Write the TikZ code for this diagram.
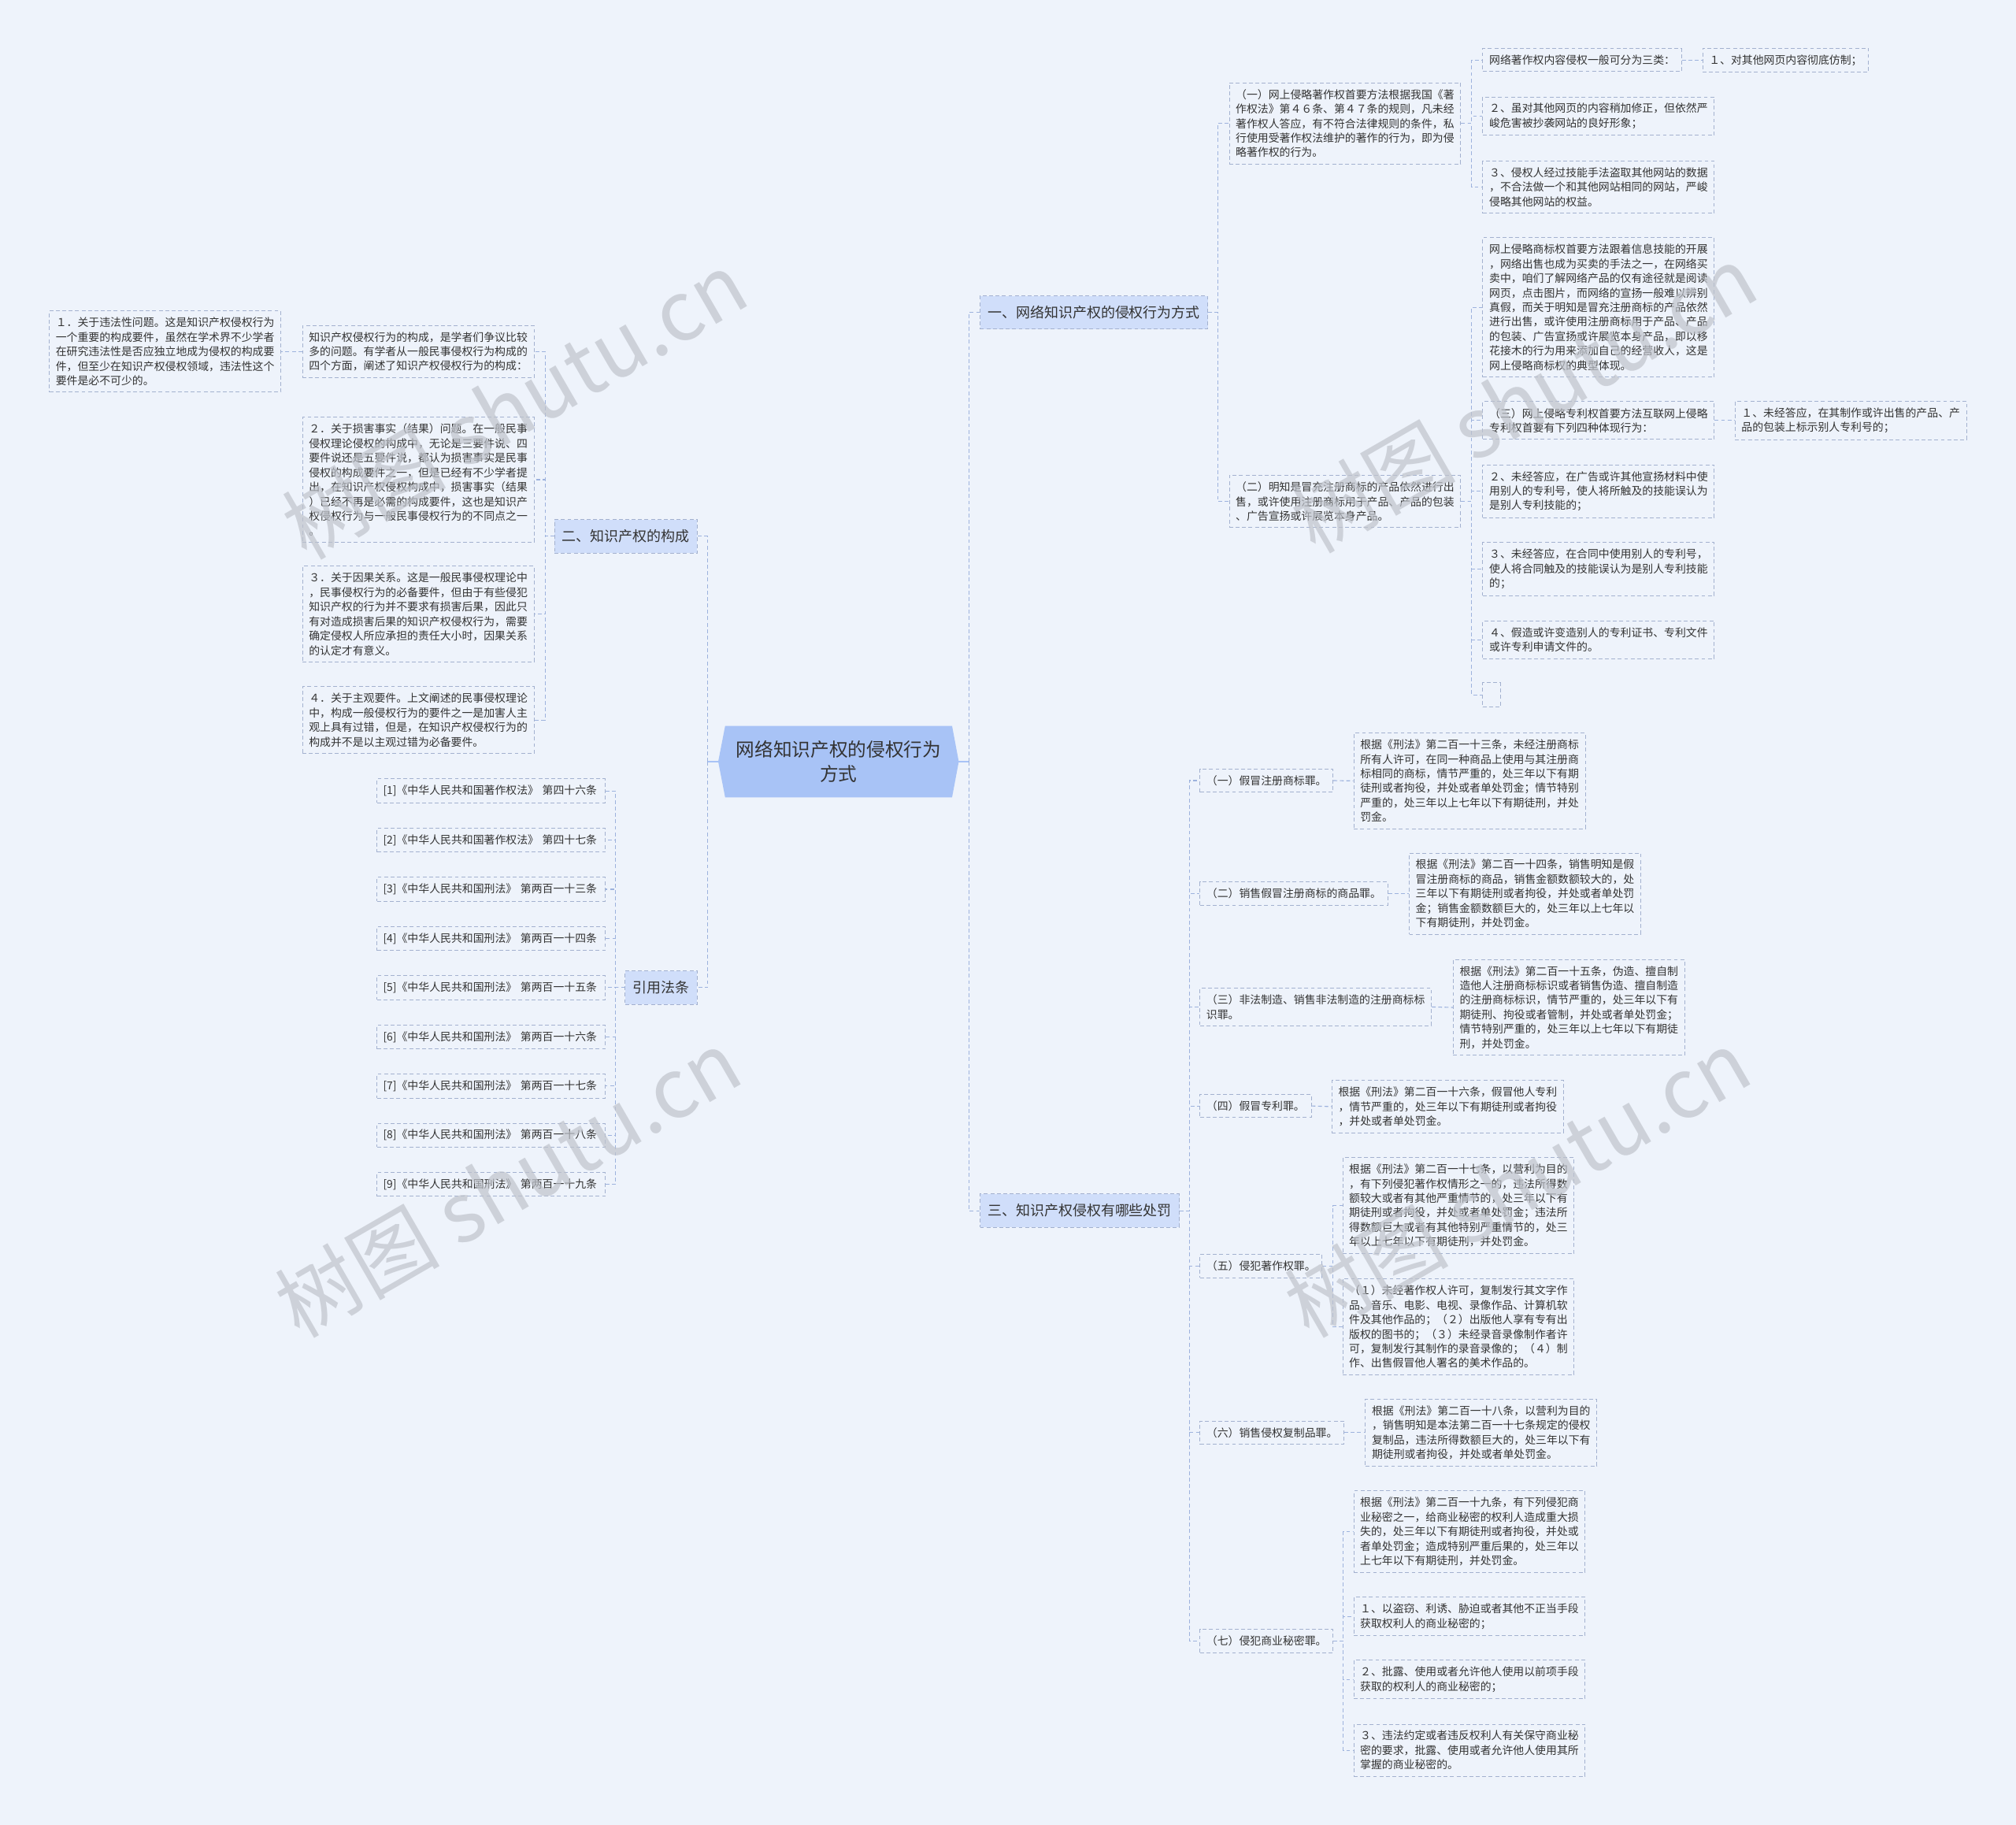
\documentclass[tikz,border=0pt]{standalone}
\usepackage{fontspec}
\setmainfont{Noto Sans CJK SC}
\usepackage{tikz}
\usetikzlibrary{calc}
\definecolor{paper}{HTML}{EEF3FB}
\definecolor{ink}{HTML}{333333}
\definecolor{edge}{HTML}{A3B1CF}
\definecolor{linkc}{HTML}{9DB2DD}
\definecolor{branchfill}{HTML}{D0DEFA}
\definecolor{rootfill}{HTML}{A8C3F6}
\definecolor{wmc}{HTML}{BFC3CB}

\begin{document}
\begin{tikzpicture}[x=1pt,y=-1pt,
  every node/.style={font=\fontsize{8.5}{11.3}\selectfont,text=ink},
  leaf/.style={draw=edge,dash pattern=on 3pt off 2pt,line width=.6pt,align=left,inner xsep=5pt,inner ysep=5pt},
  cite/.style={leaf,text width=168pt,inner xsep=4.7pt,anchor=east},
  branch/.style={draw=edge,dash pattern=on 3pt off 2pt,line width=.6pt,fill=branchfill,minimum height=26pt,inner xsep=6pt,font=\fontsize{11}{13}\selectfont},
  link/.style={draw=linkc,dash pattern=on 3pt off 2pt,line width=.7pt},
  stub/.style={draw=rootfill,line width=1.4pt},
  wmark/.style={text=wmc,text opacity=.7,rotate=30,font=\fontsize{64}{70}\selectfont}]
\useasboundingbox (0,0) rectangle (1568,1419);
\fill[paper] (0,0) rectangle (1568,1419);

% centre
\coordinate (rootL) at (558.6,592.25);
\coordinate (rootR) at (745.7,592.25);
\fill[rootfill] (564,564.5) -- (740.5,564.5) -- (rootR) -- (740.5,620) -- (564,620) -- (rootL) -- cycle;
\node[font=\fontsize{14.5}{19.4}\selectfont,align=center,minimum width=176.5pt,minimum height=55.5pt,inner sep=0pt] (root) at (652.25,592.25) {网络知识产权的侵权行为\\方式};

% trunks
\coordinate (tL) at (550.5,0);
\coordinate (tR) at (753.5,0);
\coordinate (t1) at (947,0);
\coordinate (t11) at (1144.5,0);
\coordinate (t12) at (1144.7,0);
\coordinate (t2) at (424,0);
\coordinate (t3) at (478.8,0);
\coordinate (t4) at (925,0);
\coordinate (t45) at (1036.8,0);
\coordinate (t47) at (1044.8,0);

% main branches
\node[branch,anchor=west] (b1) at (762,243) {一、网络知识产权的侵权行为方式};
\node[branch,anchor=east] (b2) at (542.6,417) {二、知识产权的构成};
\node[branch,anchor=east] (b3) at (542.6,768) {引用法条};
\node[branch,anchor=west] (b4) at (762,941.5) {三、知识产权侵权有哪些处罚};

\draw[link] (rootR -| tR) |- (b1.west);
\draw[link] (rootR -| tR) |- (b4.west);
\draw[link] (rootL -| tL) |- (b2.east);
\draw[link] (rootL -| tL) |- (b3.east);
\draw[stub] (rootR) -- (rootR -| tR);
\draw[stub] (rootL) -- (rootL -| tL);

% branch 1
\node[leaf,anchor=west] (n1) at (955.8,96) {（一）网上侵略著作权首要方法根据我国《著\\作权法》第４６条、第４７条的规则，凡未经\\著作权人答应，有不符合法律规则的条件，私\\行使用受著作权法维护的著作的行为，即为侵\\略著作权的行为。};
\node[leaf,anchor=west] (n2) at (955.8,390) {（二）明知是冒充注册商标的产品依然进行出\\售，或许使用注册商标用于产品、产品的包装\\、广告宣扬或许展览本身产品。};
\node[leaf,anchor=west] (n11) at (1153,46.7) {网络著作权内容侵权一般可分为三类：};
\node[leaf,anchor=west] (n111) at (1324,46.7) {１、对其他网页内容彻底仿制；};
\node[leaf,anchor=west] (n12) at (1153,90.3) {２、虽对其他网页的内容稍加修正，但依然严\\峻危害被抄袭网站的良好形象；};
\node[leaf,anchor=west] (n13) at (1153,145.5) {３、侵权人经过技能手法盗取其他网站的数据\\，不合法做一个和其他网站相同的网站，严峻\\侵略其他网站的权益。};
\node[leaf,anchor=west] (n21) at (1153,239) {网上侵略商标权首要方法跟着信息技能的开展\\，网络出售也成为买卖的手法之一，在网络买\\卖中，咱们了解网络产品的仅有途径就是阅读\\网页，点击图片，而网络的宣扬一般难以辨别\\真假，而关于明知是冒充注册商标的产品依然\\进行出售，或许使用注册商标用于产品、产品\\的包装、广告宣扬或许展览本身产品，即以移\\花接木的行为用来添加自己的经营收人，这是\\网上侵略商标权的典型体现。};
\node[leaf,anchor=west] (n22) at (1153,327) {（三）网上侵略专利权首要方法互联网上侵略\\专利权首要有下列四种体现行为：};
\node[leaf,anchor=west] (n221) at (1349.2,327) {１、未经答应，在其制作或许出售的产品、产\\品的包装上标示别人专利号的；};
\node[leaf,anchor=west] (n23) at (1153,382) {２、未经答应，在广告或许其他宣扬材料中使\\用别人的专利号，使人将所触及的技能误认为\\是别人专利技能的；};
\node[leaf,anchor=west] (n24) at (1153,442.5) {３、未经答应，在合同中使用别人的专利号，\\使人将合同触及的技能误认为是别人专利技能\\的；};
\node[leaf,anchor=west] (n25) at (1153,497.5) {４、假造或许变造别人的专利证书、专利文件\\或许专利申请文件的。};
\node[leaf,anchor=west,minimum width=13.5pt,minimum height=19pt,inner sep=0pt] (n26) at (1153,540.5) {};

\draw[link] (b1.east) -- (b1.east -| t1) |- (n1.west);
\draw[link] (b1.east) -- (b1.east -| t1) |- (n2.west);
\draw[link] (n1.east) -- (n1.east -| t11) |- (n11.west);
\draw[link] (n1.east) -- (n1.east -| t11) |- (n12.west);
\draw[link] (n1.east) -- (n1.east -| t11) |- (n13.west);
\draw[link] (n11.east) -- (n111.west);
\draw[link] (n2.east) -- (n2.east -| t12) |- (n21.west);
\draw[link] (n2.east) -- (n2.east -| t12) |- (n22.west);
\draw[link] (n2.east) -- (n2.east -| t12) |- (n23.west);
\draw[link] (n2.east) -- (n2.east -| t12) |- (n24.west);
\draw[link] (n2.east) -- (n2.east -| t12) |- (n25.west);
\draw[link] (n2.east) -- (n2.east -| t12) |- (n26.west);
\draw[link] (n22.east) -- (n221.west);

% branch 2
\node[leaf,anchor=east] (m1) at (415.6,273.4) {知识产权侵权行为的构成，是学者们争议比较\\多的问题。有学者从一般民事侵权行为构成的\\四个方面，阐述了知识产权侵权行为的构成：};
\node[leaf,anchor=east] (m11) at (218.7,273.4) {１．关于违法性问题。这是知识产权侵权行为\\一个重要的构成要件，虽然在学术界不少学者\\在研究违法性是否应独立地成为侵权的构成要\\件，但至少在知识产权侵权领域，违法性这个\\要件是必不可少的。};
\node[leaf,anchor=east] (m2) at (415.6,373) {２．关于损害事实（结果）问题。在一般民事\\侵权理论侵权的构成中，无论是三要件说、四\\要件说还是五要件说，都认为损害事实是民事\\侵权的构成要件之一，但是已经有不少学者提\\出，在知识产权侵权构成中，损害事实（结果\\）已经不再是必需的构成要件，这也是知识产\\权侵权行为与一般民事侵权行为的不同点之一\\。};
\node[leaf,anchor=east] (m3) at (415.6,477.5) {３．关于因果关系。这是一般民事侵权理论中\\，民事侵权行为的必备要件，但由于有些侵犯\\知识产权的行为并不要求有损害后果，因此只\\有对造成损害后果的知识产权侵权行为，需要\\确定侵权人所应承担的责任大小时，因果关系\\的认定才有意义。};
\node[leaf,anchor=east] (m4) at (415.6,560) {４．关于主观要件。上文阐述的民事侵权理论\\中，构成一般侵权行为的要件之一是加害人主\\观上具有过错，但是，在知识产权侵权行为的\\构成并不是以主观过错为必备要件。};

\draw[link] (b2.west) -- (b2.west -| t2) |- (m1.east);
\draw[link] (b2.west) -- (b2.west -| t2) |- (m2.east);
\draw[link] (b2.west) -- (b2.west -| t2) |- (m3.east);
\draw[link] (b2.west) -- (b2.west -| t2) |- (m4.east);
\draw[link] (m1.west) -- (m11.east);

% branch 3
\node[cite] (r1) at (471,615) {[1]《中华人民共和国著作权法》 第四十六条};
\node[cite] (r2) at (471,653.25) {[2]《中华人民共和国著作权法》 第四十七条};
\node[cite] (r3) at (471,691.5) {[3]《中华人民共和国刑法》 第两百一十三条};
\node[cite] (r4) at (471,729.75) {[4]《中华人民共和国刑法》 第两百一十四条};
\node[cite] (r5) at (471,768) {[5]《中华人民共和国刑法》 第两百一十五条};
\node[cite] (r6) at (471,806.25) {[6]《中华人民共和国刑法》 第两百一十六条};
\node[cite] (r7) at (471,844.5) {[7]《中华人民共和国刑法》 第两百一十七条};
\node[cite] (r8) at (471,882.75) {[8]《中华人民共和国刑法》 第两百一十八条};
\node[cite] (r9) at (471,921) {[9]《中华人民共和国刑法》 第两百一十九条};

\draw[link] (b3.west) -- (b3.west -| t3) |- (r1.east);
\draw[link] (b3.west) -- (b3.west -| t3) |- (r2.east);
\draw[link] (b3.west) -- (b3.west -| t3) |- (r3.east);
\draw[link] (b3.west) -- (b3.west -| t3) |- (r4.east);
\draw[link] (b3.west) -- (b3.west -| t3) |- (r5.east);
\draw[link] (b3.west) -- (b3.west -| t3) |- (r6.east);
\draw[link] (b3.west) -- (b3.west -| t3) |- (r7.east);
\draw[link] (b3.west) -- (b3.west -| t3) |- (r8.east);
\draw[link] (b3.west) -- (b3.west -| t3) |- (r9.east);

% branch 4
\node[leaf,anchor=west] (p1) at (933,607) {（一）假冒注册商标罪。};
\node[leaf,anchor=west] (p11) at (1052.7,607.2) {根据《刑法》第二百一十三条，未经注册商标\\所有人许可，在同一种商品上使用与其注册商\\标相同的商标，情节严重的，处三年以下有期\\徒刑或者拘役，并处或者单处罚金；情节特别\\严重的，处三年以上七年以下有期徒刑，并处\\罚金。};
\node[leaf,anchor=west] (p2) at (933,695) {（二）销售假冒注册商标的商品罪。};
\node[leaf,anchor=west] (p21) at (1095.8,695) {根据《刑法》第二百一十四条，销售明知是假\\冒注册商标的商品，销售金额数额较大的，处\\三年以下有期徒刑或者拘役，并处或者单处罚\\金；销售金额数额巨大的，处三年以上七年以\\下有期徒刑，并处罚金。};
\node[leaf,anchor=west] (p3) at (933,783) {（三）非法制造、销售非法制造的注册商标标\\识罪。};
\node[leaf,anchor=west] (p31) at (1130,783.4) {根据《刑法》第二百一十五条，伪造、擅自制\\造他人注册商标标识或者销售伪造、擅自制造\\的注册商标标识，情节严重的，处三年以下有\\期徒刑、拘役或者管制，并处或者单处罚金；\\情节特别严重的，处三年以上七年以下有期徒\\刑，并处罚金。};
\node[leaf,anchor=west] (p4) at (933,860) {（四）假冒专利罪。};
\node[leaf,anchor=west] (p41) at (1035.7,860.5) {根据《刑法》第二百一十六条，假冒他人专利\\，情节严重的，处三年以下有期徒刑或者拘役\\，并处或者单处罚金。};
\node[leaf,anchor=west] (p5) at (933,984.5) {（五）侵犯著作权罪。};
\node[leaf,anchor=west] (p51) at (1044,937.5) {根据《刑法》第二百一十七条，以营利为目的\\，有下列侵犯著作权情形之一的，违法所得数\\额较大或者有其他严重情节的，处三年以下有\\期徒刑或者拘役，并处或者单处罚金；违法所\\得数额巨大或者有其他特别严重情节的，处三\\年以上七年以下有期徒刑，并处罚金。};
\node[leaf,anchor=west] (p52) at (1044,1031.7) {（１）未经著作权人许可，复制发行其文字作\\品、音乐、电影、电视、录像作品、计算机软\\件及其他作品的；（２）出版他人享有专有出\\版权的图书的；（３）未经录音录像制作者许\\可，复制发行其制作的录音录像的；（４）制\\作、出售假冒他人署名的美术作品的。};
\node[leaf,anchor=west] (p6) at (933,1114) {（六）销售侵权复制品罪。};
\node[leaf,anchor=west] (p61) at (1061.7,1114) {根据《刑法》第二百一十八条，以营利为目的\\，销售明知是本法第二百一十七条规定的侵权\\复制品，违法所得数额巨大的，处三年以下有\\期徒刑或者拘役，并处或者单处罚金。};
\node[leaf,anchor=west] (p7) at (933,1276) {（七）侵犯商业秘密罪。};
\node[leaf,anchor=west] (p71) at (1052.6,1191) {根据《刑法》第二百一十九条，有下列侵犯商\\业秘密之一，给商业秘密的权利人造成重大损\\失的，处三年以下有期徒刑或者拘役，并处或\\者单处罚金；造成特别严重后果的，处三年以\\上七年以下有期徒刑，并处罚金。};
\node[leaf,anchor=west] (p72) at (1052.6,1257) {１、以盗窃、利诱、胁迫或者其他不正当手段\\获取权利人的商业秘密的；};
\node[leaf,anchor=west] (p73) at (1052.6,1306) {２、批露、使用或者允许他人使用以前项手段\\获取的权利人的商业秘密的；};
\node[leaf,anchor=west] (p74) at (1052.6,1361) {３、违法约定或者违反权利人有关保守商业秘\\密的要求，批露、使用或者允许他人使用其所\\掌握的商业秘密的。};

\draw[link] (b4.east) -- (b4.east -| t4) |- (p1.west);
\draw[link] (b4.east) -- (b4.east -| t4) |- (p2.west);
\draw[link] (b4.east) -- (b4.east -| t4) |- (p3.west);
\draw[link] (b4.east) -- (b4.east -| t4) |- (p4.west);
\draw[link] (b4.east) -- (b4.east -| t4) |- (p5.west);
\draw[link] (b4.east) -- (b4.east -| t4) |- (p6.west);
\draw[link] (b4.east) -- (b4.east -| t4) |- (p7.west);
\draw[link] (p1.east) -- (p11.west);
\draw[link] (p2.east) -- (p21.west);
\draw[link] (p3.east) -- (p31.west);
\draw[link] (p4.east) -- (p41.west);
\draw[link] (p5.east) -- (p5.east -| t45) |- (p51.west);
\draw[link] (p5.east) -- (p5.east -| t45) |- (p52.west);
\draw[link] (p6.east) -- (p61.west);
\draw[link] (p7.east) -- (p7.east -| t47) |- (p71.west);
\draw[link] (p7.east) -- (p7.east -| t47) |- (p72.west);
\draw[link] (p7.east) -- (p7.east -| t47) |- (p73.west);
\draw[link] (p7.east) -- (p7.east -| t47) |- (p74.west);

% watermarks
\node[wmark] (wm1) at (400,315) {树图 shutu.cn};
\node[wmark] (wm2) at (395,920) {树图 shutu.cn};
\node[wmark] (wm3) at (1185,310) {树图 shutu.cn};
\node[wmark] (wm4) at (1180,920) {树图 shutu.cn};
\end{tikzpicture}
\end{document}
